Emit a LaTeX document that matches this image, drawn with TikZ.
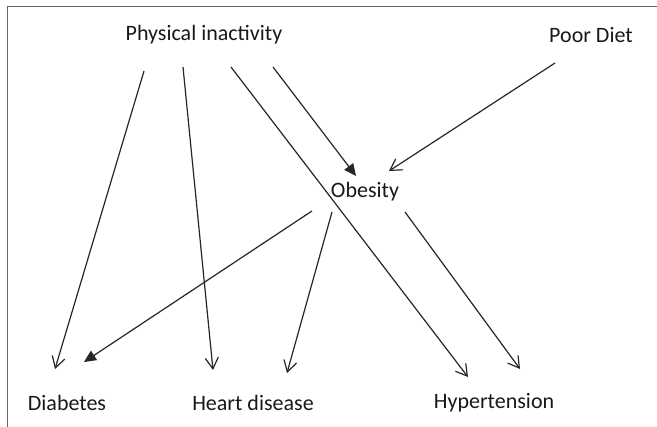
\documentclass[tikz,border=0pt]{standalone}
\usepackage{fontspec}
\setmainfont{Carlito}
\usetikzlibrary{arrows.meta}
\tikzset{
  lbl/.style={inner sep=0pt, font=\fontsize{22}{25}\selectfont, text=black!90},
  conn/.style={line width=1.2pt, draw=black!85, -{Straight Barb[length=11pt,width=13pt,line width=1.2pt]}},
  connf/.style={line width=1.2pt, draw=black!85, -{Triangle[length=12pt,width=11pt]}},
  frame/.style={line width=1.6pt, draw=black!60}
}
\begin{document}
\begin{tikzpicture}[x=1pt,y=-1pt]
\useasboundingbox (0,0) rectangle (657,427);
\fill[white] (0,0) rectangle (657,427);
\draw[frame] (7.5,427) -- (7.5,6.5) -- (657,6.5);
\node[lbl] (pi) at (204,35) {Physical inactivity};
\node[lbl] (pd) at (591,35) {Poor Diet};
\node[lbl] (ob) at (365,192) {Obesity};
\node[lbl] (db) at (67,403) {Diabetes};
\node[lbl] (hd) at (253,403) {Heart disease};
\node[lbl] (ht) at (494,403) {Hypertension};
% connector ends
\coordinate (pi1) at (144,71);
\coordinate (pi2) at (183,67);
\coordinate (pi3) at (231,67);
\coordinate (pi4) at (273,67);
\coordinate (pd1) at (555,63);
\coordinate (ob1) at (312,211);
\coordinate (ob2) at (332,212);
\coordinate (ob3) at (405,212);
\coordinate (dbA) at (55,369);
\coordinate (dbB) at (84,362);
\coordinate (hdA) at (213,370);
\coordinate (hdB) at (287,373);
\coordinate (htA) at (468,377);
\coordinate (htB) at (520,369);
\coordinate (obA) at (356,176);
\coordinate (obB) at (389,171);
\draw[conn] (pi1) -- (dbA);
\draw[conn] (pi2) -- (hdA);
\draw[conn] (pi3) -- (htA);
\draw[connf] (pi4) -- (obA);
\draw[conn] (pd1) -- (obB);
\draw[connf] (ob1) -- (dbB);
\draw[conn] (ob2) -- (hdB);
\draw[conn] (ob3) -- (htB);
\end{tikzpicture}
\end{document}
